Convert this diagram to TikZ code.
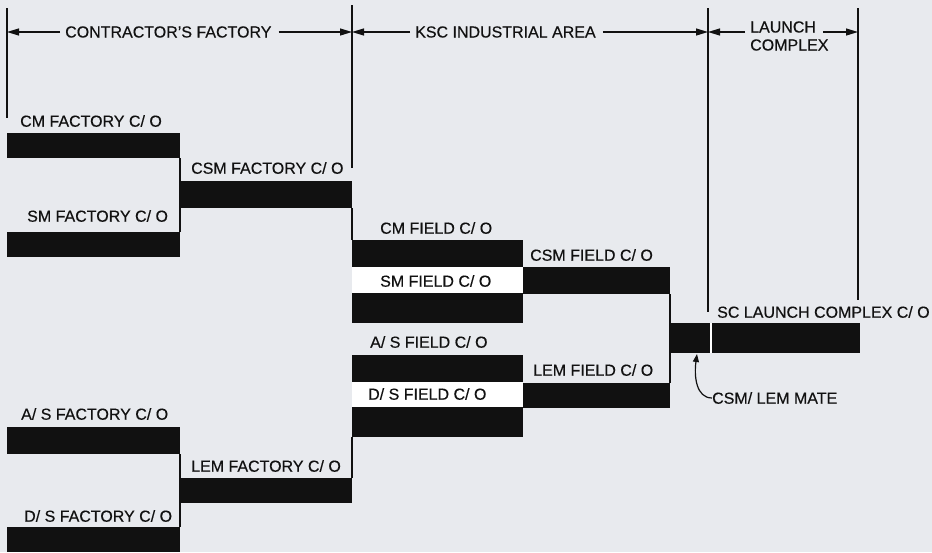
\documentclass[tikz,border=0pt]{standalone}
\usepackage{fontspec}
\setmainfont{Liberation Sans}[FakeBold=0.4]
\usetikzlibrary{arrows.meta}
\definecolor{bg}{RGB}{232,234,238}
\definecolor{ink}{RGB}{17,17,17}
\begin{document}
\begin{tikzpicture}[x=1pt,y=-1pt,
  lbl/.style={anchor=west,inner sep=0pt,font=\fontsize{16}{18}\selectfont,text=ink},
  barbox/.style={fill=ink,draw=none,inner sep=0pt,outer sep=0pt,anchor=north west},
  stripbox/.style={fill=white,draw=none,inner sep=0pt,outer sep=0pt,anchor=north west},
  link/.style={draw=ink,line width=1.2pt},
  rulel/.style={draw=ink,line width=1.8pt},
  dimarrow/.style={draw=ink,line width=1.2pt,-{Triangle[length=12pt,width=7pt]}}
]
\useasboundingbox (0,0) rectangle (932,552);
\fill[bg] (0,0) rectangle (932,552);

% boundary rules
\coordinate (r0a) at (7,8);   \coordinate (r0b) at (7,118);
\coordinate (r1a) at (352,5); \coordinate (r1b) at (352,168);
\coordinate (r2a) at (708,8); \coordinate (r2b) at (708,312);
\coordinate (r3a) at (858,8); \coordinate (r3b) at (858,300);
\draw[rulel] (r0a) -- (r0b);
\draw[rulel] (r1a) -- (r1b);
\draw[rulel] (r2a) -- (r2b);
\draw[rulel] (r3a) -- (r3b);

% headers
\node[lbl] (hdA) at (65,32) {CONTRACTOR'S FACTORY};
\node[lbl] (hdB) at (415,32) {KSC INDUSTRIAL AREA};
\node[lbl,align=left] (hdC) at (750,36) {LAUNCH\\COMPLEX};
\draw[dimarrow] ([xshift=-5pt]hdA.west) -- (hdA.west -| r0a);
\draw[dimarrow] ([xshift=7pt]hdA.east) -- (hdA.east -| r1a);
\draw[dimarrow] ([xshift=-5pt]hdB.west) -- (hdB.west -| r1a);
\draw[dimarrow] ([xshift=7pt]hdB.east) -- (hdB.east -| r2a);
\coordinate (la) at (745,32);
\coordinate (lb) at (823,32);
\draw[dimarrow] (la) -- (la -| r2a);
\draw[dimarrow] (lb) -- (lb -| r3a);

% factory bars
\node[barbox,minimum width=173pt,minimum height=25pt] (cmF) at (7,133) {};
\node[barbox,minimum width=172pt,minimum height=27pt] (csmF) at (180,181) {};
\node[barbox,minimum width=173pt,minimum height=25pt] (smF) at (7,232) {};
\node[barbox,minimum width=173pt,minimum height=27pt] (asF) at (7,427) {};
\node[barbox,minimum width=172pt,minimum height=25pt] (lemF) at (180,478) {};
\node[barbox,minimum width=173pt,minimum height=25pt] (dsF) at (7,527) {};

% field bars
\node[barbox,minimum width=171pt,minimum height=27pt] (cmFd) at (352,240) {};
\node[stripbox,minimum width=171pt,minimum height=26pt] (smStrip) at (352,267) {};
\node[barbox,minimum width=171pt,minimum height=30pt] (smFd) at (352,293) {};
\node[barbox,minimum width=147pt,minimum height=27pt] (csmFd) at (523,267) {};
\node[barbox,minimum width=171pt,minimum height=27pt] (asFd) at (352,355) {};
\node[stripbox,minimum width=171pt,minimum height=25pt] (dsStrip) at (352,382) {};
\node[barbox,minimum width=171pt,minimum height=30pt] (dsFd) at (352,407) {};
\node[barbox,minimum width=147pt,minimum height=25pt] (lemFd) at (523,383) {};

% launch complex bar
\node[barbox,minimum width=190pt,minimum height=30pt] (sc) at (670,323) {};
\draw[white,line width=2pt] ([xshift=41pt]sc.north west) -- ([xshift=41pt]sc.south west);

% connectors
\draw[link] (cmF.south east) -- (smF.north east);
\draw[link] (csmF.south east) -- (cmFd.north west);
\draw[link] (asF.south east) -- (dsF.north east);
\draw[link] (dsFd.south west) -- (lemF.north east);
\draw[link] (csmFd.south east) -- (lemFd.north east);

% labels
\node[lbl] (tcmF) at (20,121) {CM FACTORY C/ O};
\node[lbl] (tcsmF) at (191,168) {CSM FACTORY C/ O};
\node[lbl] (tsmF) at (27,216) {SM FACTORY C/ O};
\node[lbl] (tasF) at (21,414) {A/ S FACTORY C/ O};
\node[lbl] (tlemF) at (191,466) {LEM FACTORY C/ O};
\node[lbl] (tdsF) at (24,516) {D/ S FACTORY C/ O};
\node[lbl] (tcmFd) at (380,228) {CM FIELD C/ O};
\node[lbl] (tsmFd) at (380,281) {SM FIELD C/ O};
\node[lbl] (tcsmFd) at (530,255) {CSM FIELD C/ O};
\node[lbl] (tasFd) at (370,342) {A/ S FIELD C/ O};
\node[lbl] (tlemFd) at (533,370) {LEM FIELD C/ O};
\node[lbl] (tdsFd) at (368,394) {D/ S FIELD C/ O};
\node[lbl] (tsc) at (717,312) {SC LAUNCH COMPLEX C/ O};
\node[lbl] (mate) at (712,398) {CSM/ LEM MATE};

\coordinate (mt) at (697,354);
\draw[draw=ink,line width=1.2pt,-{Triangle[length=8pt,width=6pt]}]
  (mate.west) .. controls (696,398) and (694,376) .. (mt);
\end{tikzpicture}
\end{document}
